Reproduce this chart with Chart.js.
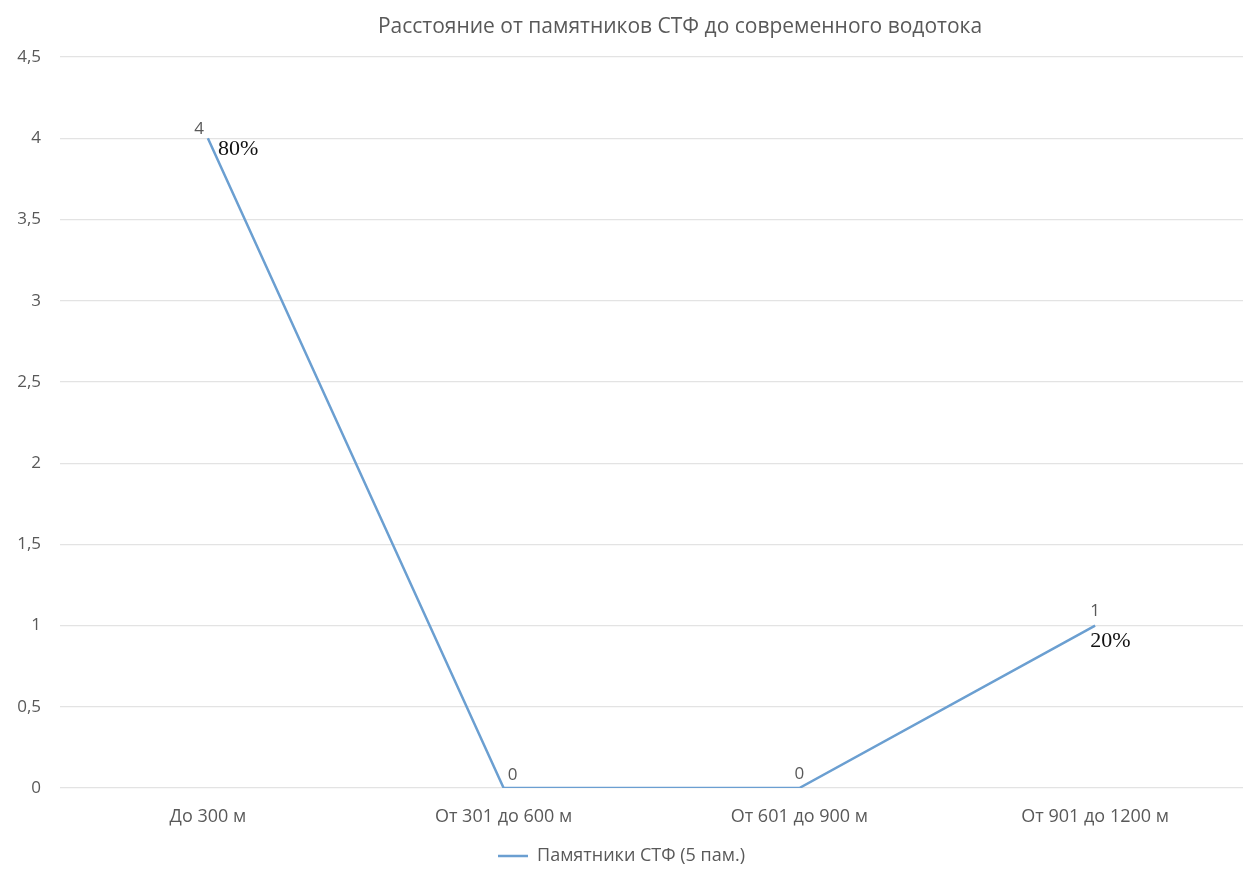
<!DOCTYPE html>
<html>
<head>
<meta charset="utf-8">
<script src="https://cdn.jsdelivr.net/npm/chart.js@4"></script>
<style>
  html, body { margin: 0; padding: 0; background: #fff; }
  #wrap { width: 1256px; height: 869px; }
</style>
</head>
<body>
<div id="wrap"><canvas id="lineChart"></canvas></div>
<script>
var categories = ["До 300 м", "От 301 до 600 м", "От 601 до 900 м", "От 901 до 1200 м"];
var values = [4, 0, 0, 1];
var percents = ["80%", "", "", "20%"];
var yTicks = [0, 0.5, 1, 1.5, 2, 2.5, 3, 3.5, 4, 4.5];
var seriesName = "Памятники СТФ (5 пам.)";
var title = "Расстояние от памятников СТФ до современного водотока";

var gray = "#595959";
var font = "'Open Sans', sans-serif";

// title sits a bit right of centre, like in the source picture
var titlePlugin = {
  id: 'offsetTitle',
  afterDraw: function(chart){
    var ctx = chart.ctx;
    ctx.save();
    ctx.fillStyle = gray;
    ctx.font = "21px " + font;
    ctx.textAlign = 'center';
    ctx.textBaseline = 'middle';
    ctx.fillText(title, 680, 27);
    ctx.restore();
  }
};

// value + percent labels next to the points
var labelPlugin = {
  id: 'pointLabels',
  afterDatasetsDraw: function(chart){
    var ctx = chart.ctx;
    var meta = chart.getDatasetMeta(0);
    ctx.save();
    meta.data.forEach(function(pt, i){
      var v = values[i];
      ctx.fillStyle = gray;
      ctx.font = "17px " + font;
      ctx.textBaseline = 'middle';
      if(i == 0){
        ctx.textAlign = 'right';
        ctx.fillText(String(v), pt.x - 4, pt.y - 9);
      } else if(i == 1){
        ctx.textAlign = 'left';
        ctx.fillText(String(v), pt.x + 4, pt.y - 13);
      } else {
        ctx.textAlign = 'center';
        ctx.fillText(String(v), pt.x, pt.y - 14);
      }
      if(percents[i]){
        ctx.fillStyle = '#111';
        ctx.font = "22px 'Liberation Serif', serif";
        ctx.textAlign = 'left';
        ctx.fillText(percents[i], pt.x + (i == 0 ? 10 : -5), pt.y + (i == 0 ? 11 : 16));
      }
    });
    ctx.restore();
  }
};

var myChart = new Chart(document.getElementById('lineChart'), {
  type: 'line',
  data: {
    labels: categories,
    datasets: [{
      label: seriesName,
      data: values,
      borderColor: '#6b9fd1',
      backgroundColor: '#6b9fd1',
      borderWidth: 2.5,
      pointRadius: 0,
      tension: 0
    }]
  },
  options: {
    responsive: true,
    maintainAspectRatio: false,
    animation: false,
    layout: { padding: { top: 57, right: 13, left: 0, bottom: -6 } },
    plugins: {
      title: { display: false },
      legend: {
        position: 'bottom',
        labels: {
          color: gray,
          font: { family: font, size: 18 },
          usePointStyle: true,
          pointStyle: 'line',
          pointStyleWidth: 30,
          padding: 0
        }
      },
      tooltip: { enabled: false }
    },
    scales: {
      x: {
        offset: true,
        grid: { display: false },
        border: { display: false },
        afterFit: function(s){ s.height = 59; },
        ticks: {
          color: gray,
          font: { family: font, size: 18 },
          padding: 10,
          maxRotation: 0,
          autoSkip: false
        }
      },
      y: {
        min: 0,
        max: 4.5,
        grid: { color: '#e3e3e3', drawTicks: false, lineWidth: 1.2 },
        border: { display: false },
        afterFit: function(s){ s.width = 60; },
        afterBuildTicks: function(s){
          s.ticks = yTicks.map(function(t){ return {value: t}; });
        },
        ticks: {
          color: gray,
          font: { family: font, size: 17 },
          padding: 19,
          callback: function(v){ return String(v).replace('.', ','); }
        }
      }
    }
  },
  plugins: [labelPlugin, titlePlugin]
});
</script>
</body>
</html>
